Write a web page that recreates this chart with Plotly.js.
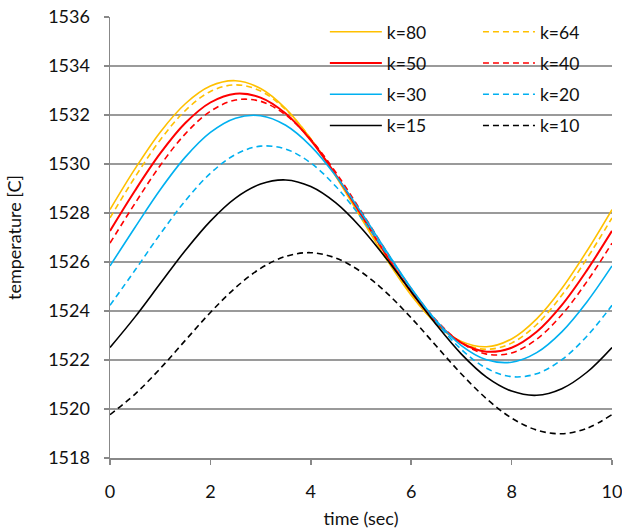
<!DOCTYPE html>
<html>
<head>
<meta charset="utf-8">
<script src="https://cdn.plot.ly/plotly-3.0.1.min.js"></script>
<style>
  html, body { margin: 0; padding: 0; background: #fff; }
  #chart { width: 622px; height: 529px; }
</style>
</head>
<body>
<div id="chart"></div>
<script>
// time axis (sec)
const time = [0, 0.5, 1, 1.5, 2, 2.5, 3, 3.5, 4, 4.5, 5, 5.5, 6, 6.5, 7, 7.5, 8, 8.5, 9, 9.5, 10];

// temperature [C] for each k
const k80 = [1528.14,1529.81,1531.30,1532.46,1533.18,1533.40,1533.08,1532.26,1531.02,1529.49,1527.80,1526.13,1524.64,1523.48,1522.76,1522.54,1522.86,1523.68,1524.92,1526.45,1528.14];
const k64 = [1527.80,1529.47,1530.98,1532.18,1532.96,1533.23,1532.98,1532.22,1531.03,1529.53,1527.87,1526.20,1524.69,1523.49,1522.71,1522.44,1522.69,1523.45,1524.64,1526.14,1527.80];
const k50 = [1527.27,1528.92,1530.43,1531.67,1532.51,1532.87,1532.71,1532.06,1530.97,1529.55,1527.94,1526.29,1524.78,1523.54,1522.70,1522.34,1522.50,1523.15,1524.24,1525.66,1527.27];
const k40 = [1526.77,1528.40,1529.94,1531.23,1532.15,1532.61,1532.56,1532.00,1531.00,1529.65,1528.08,1526.45,1524.91,1523.62,1522.70,1522.24,1522.29,1522.85,1523.85,1525.20,1526.77];
const k30 = [1525.84,1527.42,1528.95,1530.28,1531.29,1531.87,1531.97,1531.58,1530.73,1529.51,1528.04,1526.46,1524.93,1523.60,1522.59,1522.01,1521.91,1522.30,1523.15,1524.37,1525.84];
const k20 = [1524.23,1525.67,1527.14,1528.50,1529.62,1530.39,1530.73,1530.61,1530.04,1529.08,1527.82,1526.38,1524.91,1523.55,1522.43,1521.66,1521.32,1521.44,1522.01,1522.97,1524.23];
const k15 = [1522.51,1523.76,1525.12,1526.47,1527.67,1528.61,1529.18,1529.35,1529.08,1528.41,1527.40,1526.15,1524.79,1523.44,1522.24,1521.30,1520.73,1520.56,1520.83,1521.50,1522.51];
const k10 = [1519.77,1520.61,1521.65,1522.80,1523.94,1524.95,1525.74,1526.23,1526.38,1526.16,1525.60,1524.76,1523.72,1522.57,1521.43,1520.42,1519.63,1519.14,1518.99,1519.21,1519.77];

const seriesNames = ['k=80','k=64','k=50','k=40','k=30','k=20','k=15','k=10'];
const seriesValues = [k80, k64, k50, k40, k30, k20, k15, k10];

const colors = ['#FFC000','#FFC000','#FF0000','#FF0000','#00B0F0','#00B0F0','#000000','#000000'];
const widths = [1.6, 1.6, 2, 1.6, 1.6, 1.6, 1.6, 1.6];

const traces = seriesNames.map((name, i) => ({
  x: time,
  y: seriesValues[i],
  name: name,
  type: 'scatter',
  mode: 'lines',
  line: { color: colors[i], width: widths[i], shape: 'spline', smoothing: 1, dash: (i % 2 === 1) ? '6px,4px' : 'solid' },
  legend: (i % 2 === 0) ? 'legend' : 'legend2',
  legendgroup: 'g' + i,
  hoverinfo: 'x+y+name'
}));

const FONT = 'Lato, "Open Sans", sans-serif';
const legendCommon = {
  orientation: 'v',
  yanchor: 'top',
  y: 1.007,
  xanchor: 'left',
  bgcolor: 'rgba(0,0,0,0)',
  borderwidth: 0,
  font: { family: FONT, size: 17.5, color: '#111' },
  itemwidth: 52,
  tracegroupgap: 5.5
};

const layout = {
  width: 622,
  height: 529,
  margin: { l: 110, r: 10, t: 17, b: 71 },
  paper_bgcolor: '#ffffff',
  plot_bgcolor: '#ffffff',
  font: { family: FONT, size: 18, color: '#111' },
  showlegend: true,
  legend: Object.assign({}, legendCommon, { x: 0.428 }),
  legend2: Object.assign({}, legendCommon, { x: 0.733 }),
  xaxis: {
    range: [0, 10],
    tick0: 0,
    dtick: 2,
    showgrid: false,
    zeroline: false,
    showline: true,
    linecolor: '#888888',
    linewidth: 1.5,
    ticks: 'outside',
    ticklen: 5,
    tickwidth: 1.5,
    tickcolor: '#888888',
    tickfont: { family: FONT, size: 18, color: '#111' },
    ticklabelstandoff: 12,
    ticklabeloverflow: 'allow',
    title: { text: 'time (sec)', font: { family: FONT, size: 18, color: '#111' }, standoff: 11 }
  },
  yaxis: {
    range: [1518, 1536],
    tick0: 1518,
    dtick: 2,
    showgrid: true,
    gridcolor: '#9a9a9a',
    gridwidth: 1.3,
    zeroline: false,
    showline: true,
    linecolor: '#888888',
    linewidth: 1.5,
    ticks: 'outside',
    ticklen: 5,
    tickwidth: 1.5,
    tickcolor: '#888888',
    tickfont: { family: FONT, size: 18, color: '#111' },
    ticklabelstandoff: 10,
    title: { text: 'temperature [C]', font: { family: FONT, size: 18, color: '#111' }, standoff: 22 }
  }
};

Plotly.newPlot('chart', traces, layout, { displayModeBar: false, staticPlot: true });
</script>
</body>
</html>
